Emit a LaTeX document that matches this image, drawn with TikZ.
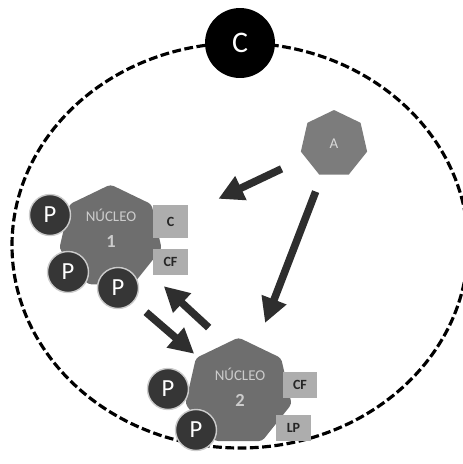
\documentclass[tikz,border=0pt]{standalone}
\usepackage{fontspec}
\setmainfont{Carlito}
\usetikzlibrary{shapes.geometric,arrows.meta}
\definecolor{nucgray}{HTML}{6E6E6E}
\definecolor{agray}{HTML}{7C7C7C}
\definecolor{pdark}{HTML}{363636}
\definecolor{tagfill}{HTML}{ADADAD}
\definecolor{flowgray}{HTML}{2E2E2E}
\tikzset{
  nucleo/.style={
    regular polygon, regular polygon sides=7,
    fill=nucgray, inner sep=0pt, rounded corners=2pt
  },
  nuctext/.style={
    align=center, inner sep=0pt, text=white!80!black,
    font=\fontsize{8.5}{15}\selectfont
  },
  prot/.style={
    circle, fill=pdark, draw=white!80!black, line width=0.8pt,
    minimum size=0.82cm, inner sep=0pt, text=white,
    font=\fontsize{14}{14}\selectfont
  },
  tag/.style={
    rectangle, fill=tagfill, minimum width=0.7cm, minimum height=0.52cm,
    inner sep=0pt, text=black!85, font=\bfseries\fontsize{8}{8}\selectfont
  },
  flow/.style={
    line width=4.3pt, draw=flowgray,
    -{Triangle[length=0.5cm,width=0.5cm]}
  }
}

\begin{document}
\begin{tikzpicture}[x=0.02cm,y=-0.02cm]
  \useasboundingbox (0,0) rectangle (463,464);

  % Cell
  \draw[line width=1.8pt, dash pattern=on 5pt off 2pt] (240,245.5) ellipse [x radius=228, y radius=202.5];
  \node[circle, fill=black, minimum size=1.4cm, inner sep=0pt, text=white,
        font=\fontsize{17}{17}\selectfont] (C) at (240,43) {C};

  \node[regular polygon, regular polygon sides=7, fill=agray, minimum size=1.36cm,
        inner sep=0pt, text=white!85!black, font=\fontsize{8.5}{8.5}\selectfont] (A) at (334,144) {A};

  % Nuclei
  \node[nucleo, minimum size=2.1cm] (N1) at (110.5,237) {};
  \node[nucleo, minimum size=2.18cm] (N2) at (238.5,392) {};
  \node[nuctext] (N1t) at (111,228.5) {NÚCLEO\\{\bfseries\fontsize{10.5}{10.5}\selectfont 1}};
  \node[nuctext] (N2t) at (240,387.5) {NÚCLEO\\{\bfseries\fontsize{10.5}{10.5}\selectfont 2}};

  \node[prot] (P1a) at (50,215) {P};
  \node[prot] (P1b) at (68,272) {P};
  \node[prot] (P1c) at (118,288) {P};
  \node[prot] (P2a) at (168,389) {P};
  \node[prot] (P2b) at (196,430) {P};

  \node[tag, minimum height=0.66cm] (C1) at (170.5,221.5) {C};
  \node[tag] (CF1) at (170.5,261.5) {CF};
  \node[tag] (CF2) at (300,384.5) {CF};
  \node[tag] (LP) at (293.5,427.5) {LP};

  % Arrows
  \draw[flow, shorten <=1.16cm, shorten >=1.06cm] (A.center) -- (C1.center);
  \draw[flow, shorten <=1.02cm, shorten >=1.48cm] (A.center) -- (N2.center);
  \draw[flow, shorten <=0.74cm, shorten >=1.17cm] (P1c.center) -- (N2.center);
  \draw[flow, shorten <=1.9cm, shorten >=1.45cm] ([xshift=0.8cm]N2.center) -- (N1.center);
\end{tikzpicture}
\end{document}
